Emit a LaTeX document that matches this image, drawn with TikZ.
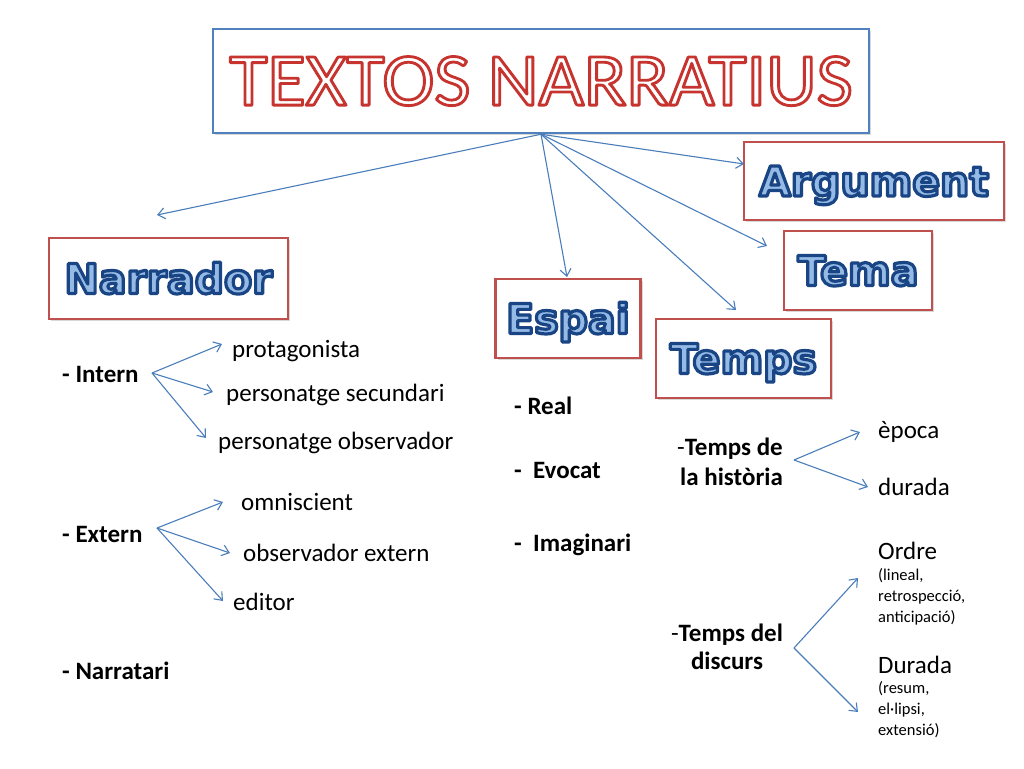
\documentclass[tikz,border=0pt]{standalone}
\usepackage{graphicx}
\usepackage{fontspec}
\setmainfont{Carlito}
\newfontfamily\hdrfont{DejaVu Sans}
\usetikzlibrary{arrows.meta,shadows}
\definecolor{tblue}{HTML}{4F81BD}
\definecolor{bred}{HTML}{C0504D}
\definecolor{hfill}{HTML}{95BAE6}
\definecolor{arrblue}{HTML}{4A7EBB}
% outlined text: fill colour, stroke colour (rgb literal), stroke width, text
\newcommand\outlined[4]{\textcolor{#1}{\special{pdf:code q #2 RG #3 w 1 j 2 Tr}#4\special{pdf:code Q}}}
\newcommand\hdr[1]{\outlined{hfill}{0.10 0.27 0.52}{3.2}{#1}}
\begin{document}
\begin{tikzpicture}[x=1pt,y=-1pt,
  arr/.style={draw=arrblue, line width=1.1pt, -{Straight Barb[length=7pt,width=11pt]}},
  shad/.style={drop shadow={shadow xshift=2pt, shadow yshift=-2pt, opacity=0.25, fill=black!60}},
  hbox/.style={draw=bred, line width=2.5pt, fill=white, inner sep=0pt, shad,
    font=\hdrfont\bfseries\fontsize{41}{44}\selectfont, text height=29.9pt, text depth=0pt},
  txt/.style={anchor=west, inner sep=0pt, font=\fontsize{25}{30}\selectfont, text height=16pt, text depth=0pt},
  btxt/.style={txt, font=\bfseries\fontsize{25}{30}\selectfont},
  small/.style={anchor=west, inner sep=0pt, align=left, font=\fontsize{16.5}{21}\selectfont}]
\fill[white] (0,0) rectangle (1024,768);
\useasboundingbox (0,0) rectangle (1024,768);

% title
\node[draw=tblue, line width=2.5pt, fill=white, shad, minimum width=656pt, minimum height=104pt,
  inner sep=0pt, text height=48.3pt, text depth=0pt, font=\fontsize{75}{80}\selectfont]
  (title) at (541,81) {\scalebox{1.045}[1]{\outlined{white}{0.78 0.20 0.18}{2.8}{TEXTOS NARRATIUS}}};

% header boxes
\node[hbox, minimum width=260pt, minimum height=78pt] (arg) at (874,181) {\hdr{Argument}};
\node[hbox, minimum width=148pt, minimum height=79pt] (tema) at (858,270.5) {\hdr{Tema}};
\node[hbox, minimum width=145pt, minimum height=79pt] (espai) at (568,318.5) {\hdr{Espai}};
\node[hbox, minimum width=175pt, minimum height=79pt] (temps) at (743.5,358.5) {\hdr{Temps}};
\node[hbox, minimum width=239pt, minimum height=81pt] (narr) at (168.5,278.5) {\hdr{Narrador}};

% arrow tips of main connectors
\coordinate (tnarr) at (157,215);
\coordinate (tespai) at (567,277);
\coordinate (ttemps) at (736,310);
\coordinate (ttema) at (767,246);
\coordinate (targ) at (744,164);
\draw[arr] (title.south) -- (tnarr);
\draw[arr] (title.south) -- (tespai);
\draw[arr] (title.south) -- (ttemps);
\draw[arr] (title.south) -- (ttema);
\draw[arr] (title.south) -- (targ);

% Narrador column
\node[btxt] (intern) at (62,374) {- Intern};
\node[txt] (protag) at (232,349) {protagonista};
\node[txt] (psec) at (226,393) {personatge secundari};
\node[txt] (pobs) at (218,441) {personatge observador};
\node[btxt] (extern) at (62,534) {- Extern};
\node[txt] (omni) at (241,502) {omniscient};
\node[txt] (oext) at (243,553) {observador extern};
\node[txt] (editor) at (233,602) {editor};
\node[btxt] (narratari) at (62,671) {- Narratari};

\coordinate (ihub) at (152,373);
\coordinate (tprotag) at (222,344);
\coordinate (tpsec) at (213,392);
\coordinate (tpobs) at (206,438);
\draw[arr] (ihub) -- (tprotag);
\draw[arr] (ihub) -- (tpsec);
\draw[arr] (ihub) -- (tpobs);

\coordinate (ehub) at (157,528);
\coordinate (tomni) at (223,502);
\coordinate (toext) at (230,553);
\coordinate (teditor) at (223,601);
\draw[arr] (ehub) -- (tomni);
\draw[arr] (ehub) -- (toext);
\draw[arr] (ehub) -- (teditor);

% Espai column
\node[btxt] (real) at (514,406) {- Real};
\node[btxt] (evocat) at (514,470) {-\ \ Evocat};
\node[btxt] (imag) at (514,543) {-\ \ Imaginari};

% Temps column
\node[anchor=east, inner sep=0pt, align=right, font=\bfseries\fontsize{25}{30}\selectfont]
  (thist) at (783,462) {{\mdseries -}Temps de\\la història};
\node[txt] (epoca) at (878,430) {època};
\node[txt] (durada) at (878,487) {durada};
\coordinate (hhub) at (794,460);
\coordinate (tepoca) at (860,432);
\coordinate (tdurada) at (868,487);
\draw[arr] (hhub) -- (tepoca);
\draw[arr] (hhub) -- (tdurada);

\node[inner sep=0pt, align=center, font=\bfseries\fontsize{25}{28}\selectfont]
  (tdisc) at (727,647) {{\mdseries -}Temps del\\discurs};
\node[txt] (ordre) at (878,551) {Ordre};
\node[small] (ordsub) at (878,597) {(lineal,\\retrospecció,\\anticipació)};
\node[txt] (durada2) at (878,665) {Durada};
\node[small] (dursub) at (878,710) {(resum,\\el·lipsi,\\extensió)};
\coordinate (dhub) at (794,648);
\coordinate (tordre) at (858,578);
\coordinate (tdur2) at (858,712);
\draw[arr] (dhub) -- (tordre);
\draw[arr] (dhub) -- (tdur2);
\end{tikzpicture}
\end{document}
